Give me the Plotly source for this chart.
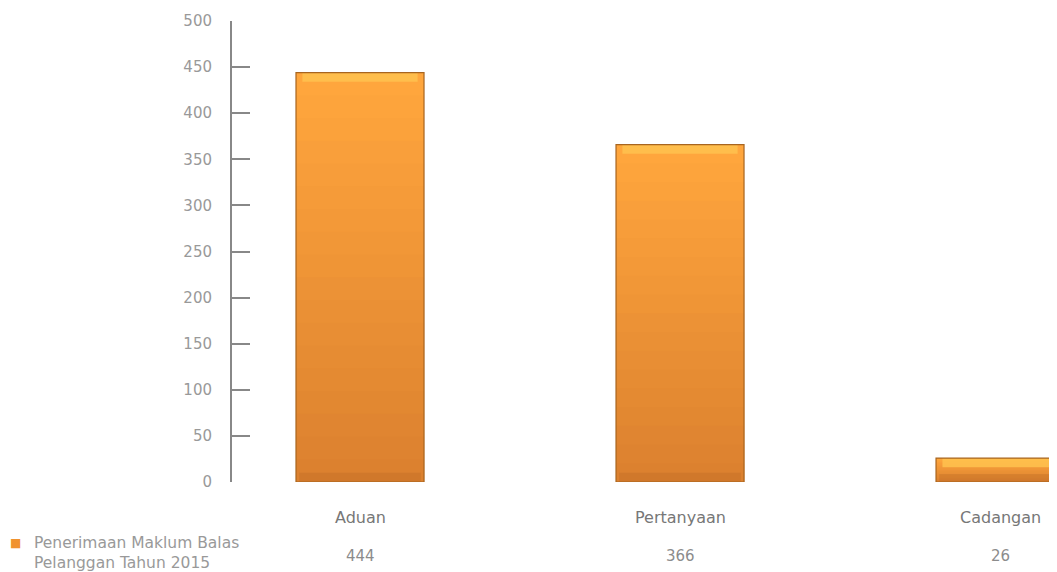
import plotly.graph_objects as go

categories = ["Aduan", "Pertanyaan", "Cadangan"]
values = [444, 366, 26]
series_name = "Penerimaan Maklum Balas<br>Pelanggan Tahun 2015"
y_ticks = [0, 50, 100, 150, 200, 250, 300, 350, 400, 450, 500]

FONT = "DejaVu Sans, Verdana, sans-serif"


def mix(c1, c2, t):
    a = [int(c1[i:i + 2], 16) for i in (1, 3, 5)]
    b = [int(c2[i:i + 2], 16) for i in (1, 3, 5)]
    return "rgb(%d,%d,%d)" % tuple(round(a[k] + (b[k] - a[k]) * t) for k in range(3))


fig = go.Figure()

# vertical gradient: overlaid layers, light at the top, darker toward the base
n_layers = 18
for i in range(n_layers):
    frac = (n_layers - i) / n_layers
    fig.add_trace(go.Bar(
        x=categories,
        y=[v * frac for v in values],
        width=0.4,
        marker=dict(color=mix("#FFA63D", "#DC812F", i / (n_layers - 1)),
                    line=dict(width=0)),
        showlegend=False,
        hoverinfo="skip",
    ))

# bevel highlight along the top edge, darker band at the foot
bevel = 10
fig.add_trace(go.Bar(
    x=categories,
    y=[bevel] * len(values),
    base=[v - bevel for v in values],
    width=0.36,
    marker=dict(color="rgba(255,196,80,0.8)", line=dict(width=0)),
    showlegend=False,
    hoverinfo="skip",
))
fig.add_trace(go.Bar(
    x=categories,
    y=[min(bevel, v / 3) for v in values],
    width=0.38,
    marker=dict(color="rgba(170,95,30,0.25)", line=dict(width=0)),
    showlegend=False,
    hoverinfo="skip",
))

# outline
fig.add_trace(go.Bar(
    x=categories,
    y=values,
    width=0.4,
    name=series_name,
    marker=dict(color="rgba(0,0,0,0)", line=dict(color="#A8651F", width=1.2)),
    hovertemplate="%{x}: %{y}<extra></extra>",
    showlegend=False,
))

# category labels and data table row
for c, v in zip(categories, values):
    fig.add_annotation(x=c, y=-0.076, xref="x", yref="paper", text=c,
                       showarrow=False, yanchor="middle",
                       font=dict(family=FONT, size=16, color="#777777"))
    fig.add_annotation(x=c, y=-0.16, xref="x", yref="paper", text=str(v),
                       showarrow=False, yanchor="middle",
                       font=dict(family=FONT, size=15, color="#8c8c8c"))

# data table legend key
fig.add_annotation(x=-0.2599, y=-0.132, xref="paper", yref="paper", text="■",
                   showarrow=False, xanchor="center", yanchor="middle",
                   font=dict(family=FONT, size=12, color="#F0922F"))
fig.add_annotation(x=-0.2401, y=-0.155, xref="paper", yref="paper", text=series_name,
                   showarrow=False, xanchor="left", yanchor="middle", align="left",
                   font=dict(family=FONT, size=15.5, color="#999999"))

fig.update_layout(
    width=1057,
    height=572,
    barmode="overlay",
    plot_bgcolor="white",
    paper_bgcolor="white",
    margin=dict(l=224, r=0, t=13, b=98, autoexpand=False),
    font=dict(family=FONT, size=15, color="#999999"),
    showlegend=False,
    xaxis=dict(range=[-0.4, 2.203], showticklabels=False, showgrid=False,
               zeroline=False, showline=False, ticks=""),
    yaxis=dict(range=[0, 500], tickvals=y_ticks, showgrid=False, zeroline=False,
               showline=True, linecolor="#888888", linewidth=2,
               ticks="inside", ticklen=18, tickcolor="#888888", tickwidth=2,
               ticklabelstandoff=15, tickfont=dict(family=FONT, size=15, color="#999999")),
)

fig.write_html("out.html")
